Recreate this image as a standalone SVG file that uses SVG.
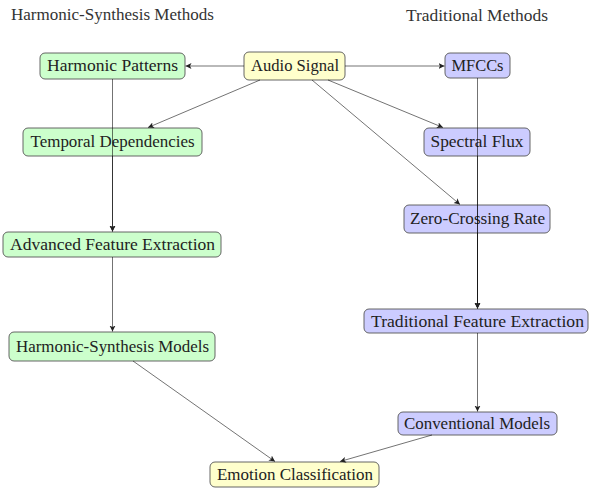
<svg xmlns="http://www.w3.org/2000/svg" width="589" height="490" viewBox="0 0 589 490">
<style>
text{font-size:16px;fill:#222;text-anchor:middle}
.title{fill:#333}
.box{stroke:#555;stroke-width:0.9}
.g{fill:#ccffcc}
.b{fill:#ccccff}
.y{fill:#ffffcc}
.c{stroke:#000;stroke-opacity:0.55;stroke-width:1;fill:none;marker-end:url(#ah)}
</style>
<defs>
<marker id="ah" markerUnits="userSpaceOnUse" markerWidth="8" markerHeight="8" refX="6" refY="3" orient="auto">
<path d="M0,0 L6,3 L0,6 L1.5,3 Z" fill="#222"/>
</marker>
</defs>
<g font-family="'Liberation Serif', 'Times New Roman', 'DejaVu Serif', serif">
<text class="title" x="112.5" y="20" textLength="203" lengthAdjust="spacingAndGlyphs">Harmonic-Synthesis Methods</text>
<text class="title" x="477" y="21" textLength="142" lengthAdjust="spacingAndGlyphs">Traditional Methods</text>

<g id="harmonic-patterns"><rect class="box g" x="40" y="53" width="145" height="26" rx="5"/><text x="112.5" y="71" textLength="131" lengthAdjust="spacingAndGlyphs">Harmonic Patterns</text></g>
<g id="audio-signal"><rect class="box y" x="244" y="52" width="101" height="28" rx="5"/><text x="295" y="71" textLength="88" lengthAdjust="spacingAndGlyphs">Audio Signal</text></g>
<g id="mfccs"><rect class="box b" x="445" y="53" width="65" height="25" rx="5"/><text x="477.5" y="71" textLength="52" lengthAdjust="spacingAndGlyphs">MFCCs</text></g>
<g id="temporal-dependencies"><rect class="box g" x="23" y="128" width="179" height="28" rx="5"/><text x="112.5" y="147" textLength="164" lengthAdjust="spacingAndGlyphs">Temporal Dependencies</text></g>
<g id="spectral-flux"><rect class="box b" x="424" y="128" width="106" height="28" rx="5"/><text x="477" y="147" textLength="93" lengthAdjust="spacingAndGlyphs">Spectral Flux</text></g>
<g id="zero-crossing-rate"><rect class="box b" x="404" y="205" width="146" height="28" rx="5"/><text x="477.5" y="224" textLength="135" lengthAdjust="spacingAndGlyphs">Zero-Crossing Rate</text></g>
<g id="advanced-feature-extraction"><rect class="box g" x="3" y="232" width="218" height="25" rx="5"/><text x="112.5" y="250" textLength="205" lengthAdjust="spacingAndGlyphs">Advanced Feature Extraction</text></g>
<g id="traditional-feature-extraction"><rect class="box b" x="364" y="309" width="224" height="24" rx="5"/><text x="477.5" y="326.5" textLength="213" lengthAdjust="spacingAndGlyphs">Traditional Feature Extraction</text></g>
<g id="harmonic-synthesis-models"><rect class="box g" x="9" y="332" width="206" height="29" rx="5"/><text x="112.5" y="351.5" textLength="193" lengthAdjust="spacingAndGlyphs">Harmonic-Synthesis Models</text></g>
<g id="conventional-models"><rect class="box b" x="398" y="412" width="159" height="23" rx="5"/><text x="477" y="429" textLength="146" lengthAdjust="spacingAndGlyphs">Conventional Models</text></g>
<g id="emotion-classification"><rect class="box y" x="210" y="462" width="169" height="25" rx="5"/><text x="295" y="480" textLength="156" lengthAdjust="spacingAndGlyphs">Emotion Classification</text></g>
</g>
<g id="connectors">
<line class="c" x1="244" y1="66" x2="185.5" y2="66"/>
<line class="c" x1="345" y1="66" x2="444.5" y2="66"/>
<line class="c" x1="260" y1="80" x2="148" y2="127.5"/>
<line class="c" x1="328" y1="80" x2="443" y2="127.5"/>
<line class="c" x1="312" y1="80" x2="460" y2="204.5"/>
<line class="c" x1="112.5" y1="79" x2="112.5" y2="231.5"/>
<line class="c" x1="112.5" y1="156" x2="112.5" y2="231.5"/>
<line class="c" x1="112.5" y1="257" x2="112.5" y2="331.5"/>
<line class="c" x1="477.5" y1="78" x2="477.5" y2="308.5"/>
<line class="c" x1="477.5" y1="156" x2="477.5" y2="308.5"/>
<line class="c" x1="477.5" y1="233" x2="477.5" y2="308.5"/>
<line class="c" x1="477.5" y1="333" x2="477.5" y2="411.5"/>
<line class="c" x1="133" y1="361" x2="275" y2="461.5"/>
<line class="c" x1="432" y1="435" x2="340" y2="461.5"/>
</g>
</svg>
